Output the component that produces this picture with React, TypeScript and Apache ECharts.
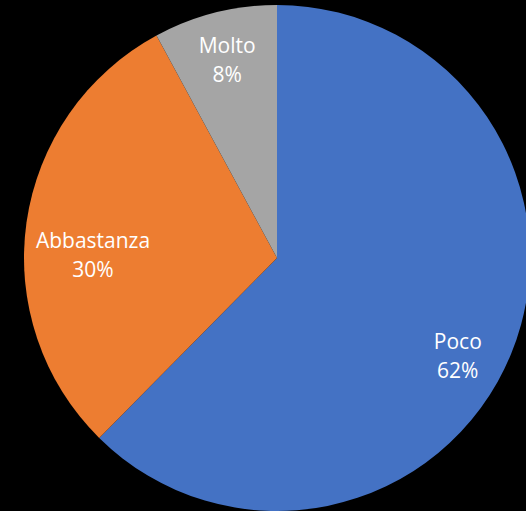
import React, { useEffect, useRef } from "react";
import * as echarts from "echarts";

const categories = ["Poco", "Abbastanza", "Molto"];
const values = [62.4, 29.7, 7.9];
const colors = ["#4472C4", "#ED7D31", "#A5A5A5"];
const labelOffsets: [number, number][] = [[-7, 20], [17, 25], [0, -2]];

export default function App() {
  const ref = useRef<HTMLDivElement>(null);
  useEffect(() => {
    if (!ref.current) return;
    const chart = echarts.init(ref.current, undefined, { renderer: "svg" });
    const pieData = categories.map((name, i) => ({
      name,
      value: values[i],
      itemStyle: { color: colors[i] },
    }));
    const labelData = categories.map((name, i) => ({
      name,
      value: values[i],
      label: { offset: labelOffsets[i] },
    }));
    chart.setOption({
      animation: false,
      backgroundColor: "#000000",
      series: [
        {
          type: "pie",
          center: [277, 258],
          radius: [0, 253],
          startAngle: 90,
          clockwise: true,
          label: { show: false },
          labelLine: { show: false },
          itemStyle: { borderWidth: 0 },
          emphasis: { disabled: true },
          silent: true,
          data: pieData,
        },
        {
          type: "pie",
          center: [277, 258],
          radius: [147, 253],
          startAngle: 90,
          clockwise: true,
          silent: true,
          emphasis: { disabled: true },
          itemStyle: { color: "rgba(0,0,0,0)", borderWidth: 0 },
          labelLine: { show: false },
          label: {
            show: true,
            position: "inside",
            formatter: (p: any) => `${p.name}\n${Math.round(p.percent)}%`,
            color: "#FFFFFF",
            fontFamily: "Open Sans",
            fontSize: 21,
            lineHeight: 29,
            align: "center",
          },
          data: labelData,
        },
      ],
    });
    return () => chart.dispose();
  }, []);
  return (
    <div
      ref={ref}
      style={{ position: "fixed", left: 0, top: 0, width: 526, height: 511, background: "#000" }}
    />
  );
}
